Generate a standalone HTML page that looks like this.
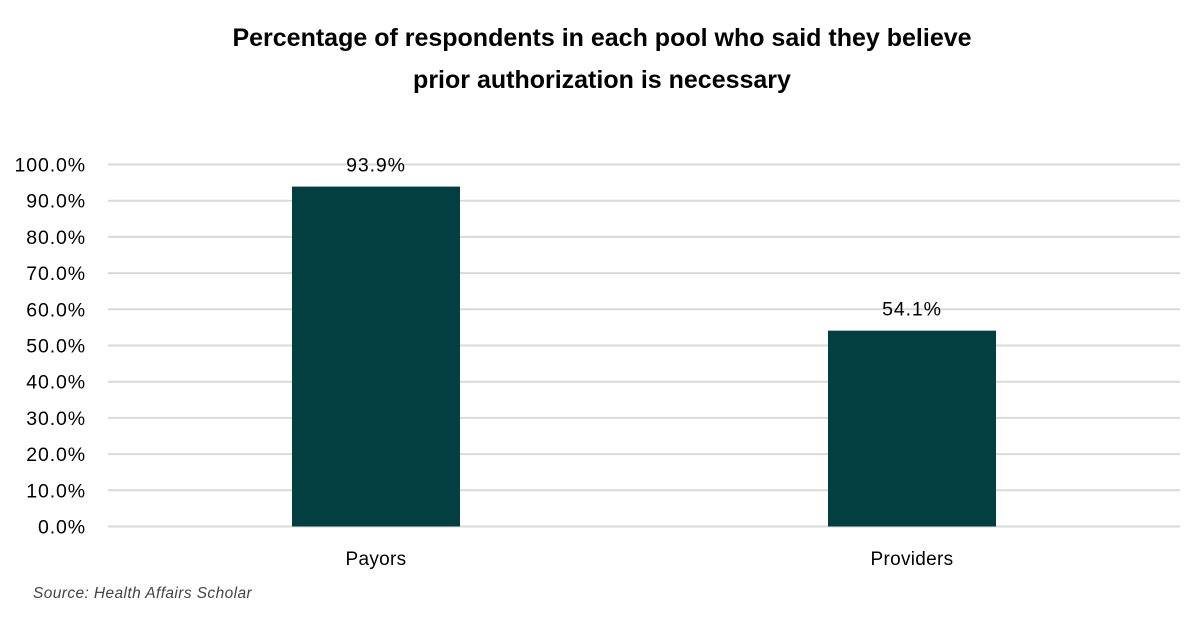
<!DOCTYPE html>
<html><head><meta charset="utf-8"><style>
body{margin:0;background:#fff;width:1204px;height:627px;overflow:hidden;font-family:"Liberation Sans",sans-serif}
</style></head><body>
<svg width="1204" height="627">
<text x="602" y="46" text-anchor="middle" font-size="25" font-weight="bold" fill="#000">Percentage of respondents in each pool who said they believe</text>
<text x="602" y="88" text-anchor="middle" font-size="25" font-weight="bold" fill="#000">prior authorization is necessary</text>
<g id="grid"></g><g id="bars"></g>
<text x="33" y="598" font-size="15.5" font-style="italic" letter-spacing="0.4" fill="#444">Source: Health Affairs Scholar</text>
</svg>
<script>
const categories=["Payors","Providers"];
const values=[93.9,54.1];
const valueLabels=["93.9%","54.1%"];
const ticks=[0,10,20,30,40,50,60,70,80,90,100];
const tickLabels=["0.0%","10.0%","20.0%","30.0%","40.0%","50.0%","60.0%","70.0%","80.0%","90.0%","100.0%"];
const NS="http://www.w3.org/2000/svg";
const x0=108,x1=1180,yTop=164.5,yBot=526.5;
const y=v=>yBot-(v/100)*(yBot-yTop);
const band=(x1-x0)/categories.length;
const xc=i=>x0+band*(i+0.5);
const bw=168;
function mk(t,a,p){const e=document.createElementNS(NS,t);for(const k in a)e.setAttribute(k,a[k]);p.appendChild(e);return e;}
const g=document.getElementById('grid'),b=document.getElementById('bars');
ticks.forEach((t,i)=>{
 const l=mk('line',{x1:x0,x2:x1,y1:y(t),y2:y(t),stroke:'#d9d9d9','stroke-width':2},g);
 
 
 const tx=mk('text',{x:86,y:y(t)+7,'text-anchor':'end','font-size':19.5,'letter-spacing':0.9,fill:'#000'},g);
 tx.textContent=tickLabels[i];
 
 
});
categories.forEach((c,i)=>{
 const r=mk('rect',{x:xc(i)-bw/2,y:y(values[i]),width:bw,height:yBot-y(values[i]),fill:'#033e40'},b);
 
 
 const vl=mk('text',{x:xc(i),y:y(values[i])-15,'text-anchor':'middle','font-size':19.5,'letter-spacing':0.9,fill:'#000'},b);
 vl.textContent=valueLabels[i];
 
 
 const cl=mk('text',{x:xc(i),y:565,'text-anchor':'middle','font-size':19,'letter-spacing':0.3,fill:'#000'},b);
 cl.textContent=c;
 
 
});
</script>
</body></html>
